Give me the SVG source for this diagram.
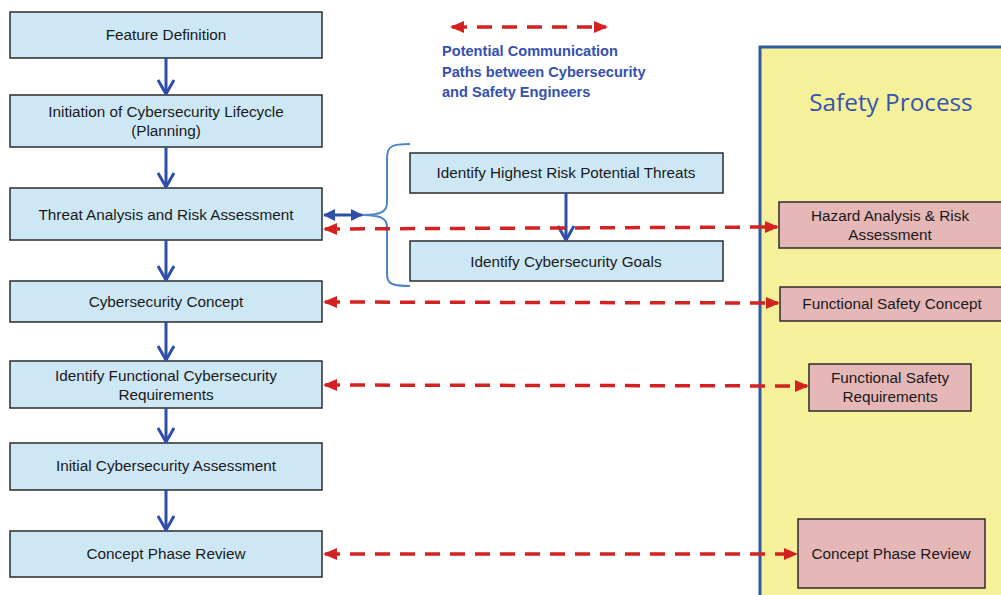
<svg xmlns="http://www.w3.org/2000/svg" width="1001" height="595" viewBox="0 0 1001 595">
<style>
.cs{fill:#cde7f5;stroke:#2b2b2b;stroke-width:1.5}
.sf{fill:#e5b7b7;stroke:#2b2b2b;stroke-width:1.5}
.t{font-family:"Liberation Sans",Arial,sans-serif;font-size:15.3px;fill:#1a1a1a;text-anchor:middle}
.flow{stroke:#2f4ea8;stroke-width:3;fill:none;marker-end:url(#chev)}
.comm{stroke:#d42222;stroke-width:3.5;fill:none;stroke-dasharray:15 10;marker-start:url(#rtri);marker-end:url(#rtri)}
.leg{font-family:"Liberation Sans",Arial,sans-serif;font-size:14.6px;font-weight:bold;fill:#3550b0}
</style>
<defs>
<marker id="chev" viewBox="0 0 16 18" refX="15" refY="9" markerWidth="16" markerHeight="18" markerUnits="userSpaceOnUse" orient="auto">
<path d="M1,1 L15,9 L1,17" fill="none" stroke="#2f4ea8" stroke-width="3"/>
</marker>
<marker id="rtri" viewBox="0 0 14 14" refX="12" refY="7" markerWidth="14" markerHeight="14" markerUnits="userSpaceOnUse" orient="auto-start-reverse">
<path d="M0,1 L14,7 L0,13 Z" fill="#d42222"/>
</marker>
<marker id="btri" viewBox="0 0 12 12" refX="11" refY="6" markerWidth="12" markerHeight="12" markerUnits="userSpaceOnUse" orient="auto-start-reverse">
<path d="M0,0 L12,6 L0,12 Z" fill="#2f4ea8"/>
</marker>
</defs>
<rect width="1001" height="595" fill="#ffffff"/>

<g id="safety-process">
<rect x="760" y="47" width="260" height="570" fill="#f7f09a" stroke="#2e5aa0" stroke-width="3"/>
<text x="891" y="111" font-family="'Open Sans','Noto Sans',sans-serif" font-size="24.3" fill="#3455b0" text-anchor="middle">Safety Process</text>
</g>

<g id="legend">
<path d="M452,27 L606,27" class="comm"/>
<text class="leg" x="442" y="56">Potential Communication</text>
<text class="leg" x="442" y="77">Paths between Cybersecurity</text>
<text class="leg" x="442" y="97">and Safety Engineers</text>
</g>

<g id="feature-definition"><rect class="cs" x="10" y="12" width="312" height="46"/><text class="t" x="166" y="40">Feature Definition</text></g>
<g id="initiation"><rect class="cs" x="10" y="95" width="312" height="52"/><text class="t" x="166" y="117">Initiation of Cybersecurity Lifecycle</text><text class="t" x="166" y="136">(Planning)</text></g>
<g id="tara"><rect class="cs" x="10" y="188" width="312" height="52"/><text class="t" x="166" y="220">Threat Analysis and Risk Assessment</text></g>
<g id="cyber-concept"><rect class="cs" x="10" y="281" width="312" height="41"/><text class="t" x="166" y="307">Cybersecurity Concept</text></g>
<g id="func-cyber-req"><rect class="cs" x="10" y="361" width="312" height="47"/><text class="t" x="166" y="381">Identify Functional Cybersecurity</text><text class="t" x="166" y="400">Requirements</text></g>
<g id="initial-assessment"><rect class="cs" x="10" y="443" width="312" height="47"/><text class="t" x="166" y="471">Initial Cybersecurity Assessment</text></g>
<g id="concept-review"><rect class="cs" x="10" y="531" width="312" height="46"/><text class="t" x="166" y="559">Concept Phase Review</text></g>

<g id="highest-risk"><rect class="cs" x="410" y="153" width="313" height="40"/><text class="t" x="566" y="178">Identify Highest Risk Potential Threats</text></g>
<g id="cyber-goals"><rect class="cs" x="410" y="241" width="313" height="40"/><text class="t" x="566" y="267">Identify Cybersecurity Goals</text></g>

<g id="hazard"><rect class="sf" x="779" y="202" width="240" height="46"/><text class="t" x="890" y="221">Hazard Analysis &amp; Risk</text><text class="t" x="890" y="240">Assessment</text></g>
<g id="fsc"><rect class="sf" x="780" y="287" width="240" height="34"/><text class="t" x="892" y="309">Functional Safety Concept</text></g>
<g id="fsr"><rect class="sf" x="809" y="364" width="162" height="47"/><text class="t" x="890" y="383">Functional Safety</text><text class="t" x="890" y="402">Requirements</text></g>
<g id="safety-review"><rect class="sf" x="798" y="519" width="187" height="69"/><text class="t" x="891" y="559">Concept Phase Review</text></g>

<g id="connectors">
<path class="flow" d="M166,58 L166,94"/>
<path class="flow" d="M166,147 L166,187"/>
<path class="flow" d="M166,240 L166,280"/>
<path class="flow" d="M166,322 L166,360"/>
<path class="flow" d="M166,408 L166,442"/>
<path class="flow" d="M166,490 L166,530"/>
<path class="flow" d="M566,193 L566,240"/>
<path d="M410,144 C392,144 387,146 387,158 L387,203 C387,212 380,215 362,215 C380,215 387,218 387,227 L387,274 C387,284 392,286 410,286" fill="none" stroke="#4a86c8" stroke-width="2"/>
<path d="M324,215 L362,215" stroke="#2f4ea8" stroke-width="3" fill="none" marker-start="url(#btri)" marker-end="url(#btri)"/>
<path class="comm" d="M325,229 L777,227"/>
<path class="comm" d="M325,302 L778,303"/>
<path class="comm" d="M325,385 L807,386"/>
<path class="comm" d="M325,554 L796,554"/>
</g>
</svg>
